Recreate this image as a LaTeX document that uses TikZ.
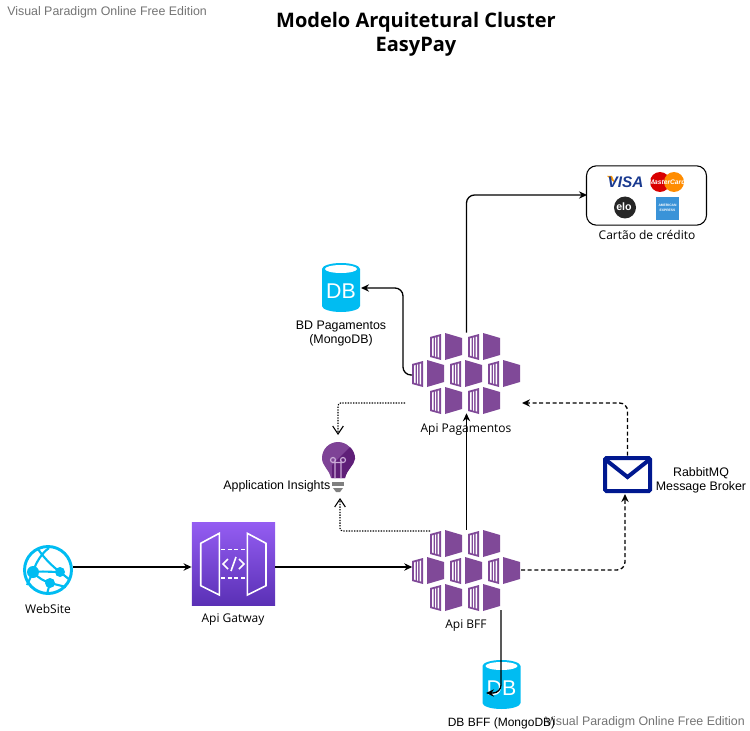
\documentclass[tikz,border=0pt]{standalone}
\usepackage{fontspec}
\setmainfont{Open Sans}
\newfontfamily\arialfont{Liberation Sans}
\usetikzlibrary{arrows.meta}

\definecolor{podpurple}{HTML}{804998}
\definecolor{dbcyan}{HTML}{00BCF2}
\definecolor{mailblue}{HTML}{00188F}
\definecolor{visablue}{HTML}{1A3A8F}
\definecolor{amexblue}{HTML}{3A93D8}
\definecolor{gatetop}{HTML}{945DF2}
\definecolor{gatebottom}{HTML}{5A30B5}
\definecolor{bulblight}{HTML}{7E4396}
\definecolor{bulbdark}{HTML}{5F1F78}
\definecolor{bulbloop}{HTML}{C9A9D6}

\tikzset{
  textlabel/.style={font=\fontsize{9}{11}\selectfont, align=center, inner sep=0pt},
  arlabel/.style={font=\arialfont\fontsize{9.3}{10.5}\selectfont, align=center, inner sep=0pt},
  watermark/.style={font=\arialfont\fontsize{9.3}{11}\selectfont, text=black!55, inner sep=0pt},
  titletext/.style={font=\bfseries\fontsize{15}{18}\selectfont, align=center, inner sep=0pt},
  slot/.style={inner sep=0pt, minimum width=#1},
  conn/.style={draw, line width=1pt, rounded corners=6, -{Stealth[length=6pt,width=5.5pt]}},
  dashconn/.style={conn, dash pattern=on 3pt off 2pt},
  dotconn/.style={draw, line width=0.8pt, rounded corners=2, dash pattern=on 1pt off 1pt,
    -{Straight Barb[length=6pt,width=8pt]}},
  pod/.pic={
    \fill[podpurple] (0,4) -- (11,1) -- (11,27) -- (0,24) -- cycle;
    \fill[white] (2,5.5) -- (3.5,5.1) -- (3.5,23.1) -- (2,22.5) -- cycle;
    \fill[white] (5.2,4.6) -- (6,4.4) -- (6,23.8) -- (5.2,23.5) -- cycle;
    \fill[white] (7.6,3.9) -- (9.2,3.5) -- (9.2,24.6) -- (7.6,24.2) -- cycle;
    \fill[podpurple] (15,0) -- (32,5) -- (32,22) -- (15,27) -- cycle;
  },
  podcluster/.pic={
    \foreach \px/\py in {-36/-40, 2/-40, -54/-13, -16/-13, 22/-13, -36/14, 2/14}
      \pic at (\px,\py) {pod};
  },
  dbcylinder/.pic={
    \fill[dbcyan] (-19,-43) arc (180:360:19 and 6) -- (19,-6) arc (0:180:19 and 6) -- cycle;
    \fill[white] (0,-43) ellipse (16 and 4);
    \node[font=\arialfont\fontsize{16}{16}\selectfont, text=white, inner sep=0pt] (-db) at (0,-21) {DB};
  }
}

\begin{document}
\begin{tikzpicture}[x=0.75pt, y=-0.75pt]
  \useasboundingbox (0,0) rectangle (750,731);

  % title and watermarks
  \node[titletext] (title) at (416,34) {Modelo Arquitetural Cluster\\EasyPay};
  \node[watermark, anchor=west] (wmtop) at (7,12) {Visual Paradigm Online Free Edition};
  \node[watermark, anchor=east] (wmbottom) at (745,722) {Visual Paradigm Online Free Edition};

  % credit card box
  \node[draw, line width=0.8pt, rounded corners=7.5, minimum width=90pt, minimum height=44.5pt, inner sep=0pt] (card) at (646.5,195.5) {};
  \node[textlabel, anchor=north] (cardname) at (647,230) {Cartão de crédito};
  \fill[orange!80!yellow] (607,176) -- (612,176) -- (615,183) -- cycle;
  \node[inner sep=0pt, text=visablue, font=\arialfont\bfseries\itshape\fontsize{11.5}{12}\selectfont] (visa) at (625.5,182) {VISA};
  \fill[red!85!black] (660,182) circle (10);
  \fill[orange!90!yellow] (674,182) circle (10);
  \node[inner sep=0pt, text=white, font=\arialfont\bfseries\itshape\fontsize{5}{5}\selectfont] (master) at (667,182) {MasterCard};
  \fill[black!85] (625,207.5) circle (11);
  \node[inner sep=0pt, text=white, font=\arialfont\bfseries\fontsize{8}{8}\selectfont] (elo) at (624,207) {elo};
  \fill[amexblue] (656,197) rectangle (679,220);
  \node[inner sep=0pt, align=center, text=white, font=\arialfont\bfseries\fontsize{2.5}{3.5}\selectfont] (amex) at (667.5,208) {AMERICAN\\EXPRESS};

  % databases
  \pic (dbpag) at (341,312) {dbcylinder};
  \node[slot=28.5pt, minimum height=37pt] (dbpagbox) at (341,288) {};
  \node[arlabel] (dbpagname) at (341,334) {BD Pagamentos\\ (MongoDB)};
  \pic (dbbff) at (501.5,709) {dbcylinder};
  \node[slot=28.5pt, minimum height=37pt] (dbbffbox) at (501.5,685) {};
  \node[arlabel, font=\arialfont\fontsize{9}{10.5}\selectfont] (dbbffname) at (501.5,723) {DB BFF (MongoDB)};

  % pod clusters
  \pic at (466,373) {podcluster};
  \node[slot=81pt, minimum height=60pt] (apipag) at (466.5,373) {};
  \node[textlabel] (apipagname) at (466,430) {Api Pagamentos};
  \pic at (466,570) {podcluster};
  \node[slot=81pt, minimum height=60pt] (apibff) at (466.5,570) {};
  \node[textlabel] (apibffname) at (466,626) {Api BFF};

  % application insights
  \fill[bulblight] (331,478) .. controls (329,469) and (322,466) .. (322,458) arc (180:360:16) .. controls (354,466) and (347,469) .. (345,478) -- cycle;
  \fill[bulbdark] (350,447) arc (-47:0:16) .. controls (354,466) and (347,469) .. (345,478) -- (332,478) -- (332,465) -- cycle;
  \draw[bulbloop, line width=0.9pt] (335,478) -- (335,460) (341,478) -- (341,460)
    (333,460) circle (2.5) (343,460) circle (2.5) (333,462.5) -- (343,462.5);
  \fill[black!50] (332,482) rectangle (344,486);
  \fill[black!50] (333,488) -- (343,488) -- (340,492) -- (336,492) -- cycle;
  \node[slot=26pt, minimum height=43pt] (insights) at (338,464) {};
  \node[arlabel, anchor=east] (insightsname) at (330.5,486) {Application Insights};

  % website
  \draw[dbcyan, line width=2.2pt] (48,570) circle (23.5);
  \draw[dbcyan, line width=1.6pt] (33,572) .. controls (36,562) and (42,553) .. (49,548)
    (33,572) .. controls (42,571) and (51,572) .. (60,572) (33,572) .. controls (38,578) and (44,581) .. (50,583)
    (60,572) .. controls (52,566) and (44,558) .. (38,549)
    (60,572) -- (70,580) (50,583) -- (66,587) (33,572) -- (27,585) (50,583) -- (47,594);
  \fill[dbcyan] (33,572) circle (6) (60,572) circle (5) (50,583) circle (5);
  \node[slot=37.5pt, minimum height=37.5pt] (website) at (48,570) {};
  \node[textlabel] (websitename) at (48,609) {WebSite};

  % gateway
  \node[slot=62.5pt, minimum height=62.5pt, top color=gatetop, bottom color=gatebottom] (gateway) at (233.5,564) {};
  \draw[white, line width=1.2pt] (200.7,543.3) -- (219.3,533.3) -- (219.3,595) -- (200.7,585.7) -- cycle;
  \draw[white, line width=1.2pt] (247.3,533.3) -- (266,543.3) -- (266,585.7) -- (247.3,595) -- cycle;
  \draw[white, line width=1.2pt, dash pattern=on 3pt off 2pt] (221,549.3) -- (246,549.3) (221,577.7) -- (246,577.7);
  \draw[white, line width=1.2pt] (228,559) -- (223,564) -- (228,569) (239,559) -- (244,564) -- (239,569) (236,557) -- (231,571);
  \node[textlabel] (gatewayname) at (233,620) {Api Gatway};

  % message broker
  \draw[mailblue, line width=3pt, rounded corners=1] (605,458) rectangle (650,491);
  \draw[mailblue, line width=3pt] (606,460) -- (627.5,477) -- (649,460);
  \node[slot=37pt, minimum height=28pt] (mail) at (627.5,474.5) {};
  \node[arlabel] (mailname) at (701,480) {RabbitMQ\\Message Broker};

  % free ends of the connectors
  \coordinate (pagdot) at (405,403);
  \coordinate (bffdot) at (430,531);
  \coordinate (insightstop) at (338,435);
  \coordinate (insightsbottom) at (340,498);
  \coordinate (pagin) at (522,403);
  \coordinate (cardin) at (587,195);
  \coordinate (mailin) at (625,494);
  \coordinate (bffout) at (521,570);
  \coordinate (bffdb) at (501,610);
  \coordinate (dbbffturn) at (501,693);
  \coordinate (dbbffin) at (486,693);
  \coordinate (dbpagin) at (361,288);
  \coordinate (pagleft) at (412,375);

  % connectors
  \draw[conn] (website.east) ++(0,-3) -- (gateway.west |- 0,567);
  \draw[conn] (gateway.east |- 0,567) -- (apibff.west |- 0,567);
  \draw[conn] (apibff.north) -- (apipag.south);
  \draw[conn] (apipag.north) |- (cardin);
  \draw[conn] (pagleft) -| (403,288) -- (dbpagin);
  \draw[conn] (bffdb) -- (dbbffturn) -- (dbbffin);
  \draw[dashconn] (bffout) -| (mailin);
  \draw[dashconn] (mail.north) |- (pagin);
  \draw[dotconn] (pagdot) -| (insightstop);
  \draw[dotconn] (bffdot) -| (insightsbottom);
\end{tikzpicture}
\end{document}
